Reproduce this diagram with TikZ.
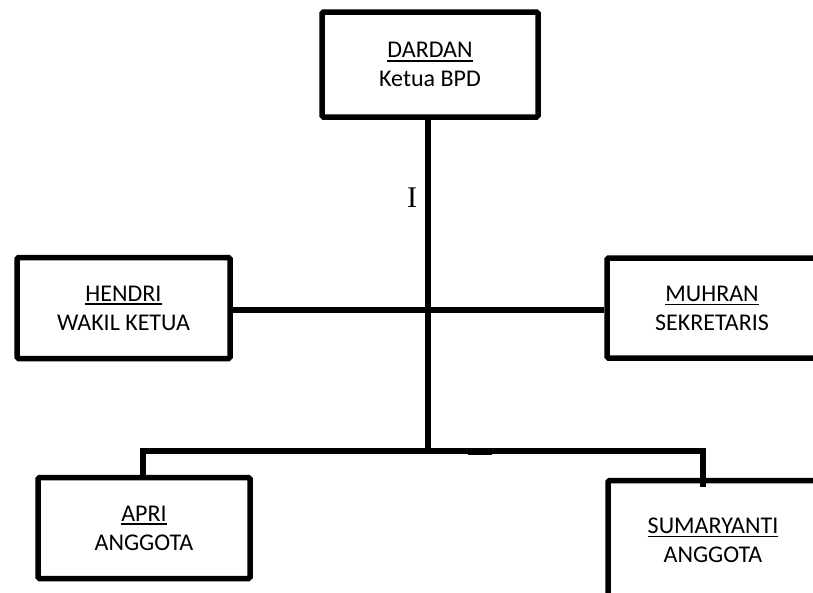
\documentclass[tikz,border=0pt]{standalone}
\usepackage{fontspec}
\setmainfont{Carlito}
\newfontfamily\serifI{Liberation Serif}
\newcommand\myul[1]{\leavevmode\vtop{\hbox{#1}\kern2.2pt\hrule height 1.8pt}}
\begin{document}
\begin{tikzpicture}[x=1pt,y=-1pt,
  box/.style={draw, line width=5.5pt, rounded corners=1.5pt, align=center, inner sep=0pt,
    font=\fontsize{24}{29}\selectfont},
  conn/.style={line width=5.5pt, line join=miter, line cap=butt}]
\useasboundingbox (0,0) rectangle (813,592);
\fill[white] (0,0) rectangle (813,592);
\clip (0,0) rectangle (813,592);
% boxes
\node[box, minimum width=216pt, minimum height=105pt] (dardan) at (430,64.5) {\myul{DARDAN}\\Ketua BPD};
\node[box, minimum width=213pt, minimum height=101pt] (hendri) at (123.5,308) {\myul{HENDRI}\\WAKIL KETUA};
\node[box, minimum width=210pt, minimum height=100pt] (muhran) at (712,308) {\myul{MUHRAN}\\SEKRETARIS};
\node[box, minimum width=212pt, minimum height=101pt] (apri) at (144,528) {\myul{APRI}\\ANGGOTA};
\node[box, minimum width=210pt, minimum height=119pt] (sumar) at (713,540) {\myul{SUMARYANTI}\\ANGGOTA};
% label
\node[font=\serifI\fontsize{30}{32}\selectfont, inner sep=0pt] (lblI) at (412,198) {I};
% junction coordinates
\coordinate (j) at (428,451);
\coordinate (h) at (428,310);
\coordinate (ja) at (143,451);
\coordinate (jb) at (703,451);
% connectors
\draw[conn] (dardan.south -| j) -- (j);
\draw[conn] (hendri.east |- h) -- (muhran.west |- h);
\draw[conn] (apri.north -| ja) -- (ja) -- (jb) -- ([yshift=-9pt]sumar.north -| jb);
\fill (468,447.5) rectangle (492,455);
\end{tikzpicture}
\end{document}
